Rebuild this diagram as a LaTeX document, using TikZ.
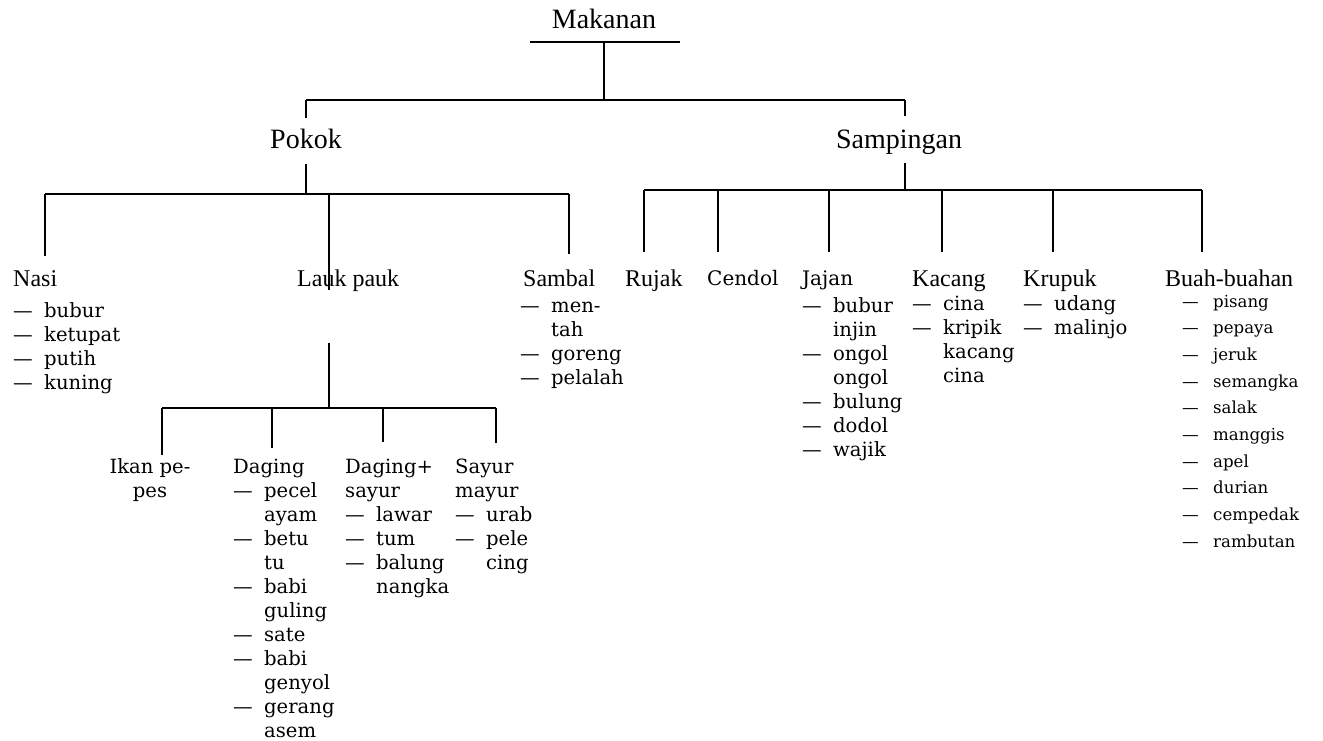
\documentclass[tikz,border=0pt]{standalone}
\usepackage{fontspec}
\setmainfont{DejaVu Serif}
\newfontfamily\lbfont{Liberation Serif}
\newcommand\dsh{\makebox[31pt][l]{—}}
\newcommand\ind{\hspace*{31pt}}
\newcommand\lst[1]{\begin{tabular}[t]{@{}l@{}}#1\end{tabular}}
\newcommand\clst[1]{\begin{tabular}[t]{@{}c@{}}#1\end{tabular}}

\begin{document}
\begin{tikzpicture}[x=1pt,y=-1pt,line join=round,
  tline/.style={line width=2.8pt},
  head/.style={font=\lbfont\fontsize{28}{30}\selectfont,anchor=base,inner sep=0pt},
  cat/.style={font=\lbfont\fontsize{24}{26}\selectfont,anchor=base west,inner sep=0pt},
  sub/.style={font=\fontsize{19.6}{24}\selectfont,anchor=base west,inner sep=0pt},
  fruit/.style={font=\fontsize{16.6}{26.7}\selectfont,anchor=base west,inner sep=0pt}]
	\useasboundingbox (0,0) rectangle (1323,740);
	
	% headings
	\node[head] (mak) at (604,28) {Makanan};
	\node[head] (pok) at (306,148) {Pokok};
	\node[head] (samp) at (899,148) {Sampingan};
	
	\foreach \n/\x/\t in {nasi/13/Nasi,lauk/297/Lauk pauk,sambal/523/Sambal,rujak/625/Rujak,kacang/912/Kacang,krupuk/1023/Krupuk,buah/1165/Buah-buahan}
	\node[cat] (\n) at (\x,286) {\t};
	\node[sub,font=\fontsize{20}{24}\selectfont] (cendol) at (707,285) {Cendol};
	\node[sub,font=\fontsize{20}{24}\selectfont] (jajan) at (802,285) {Jajan};
	
	% lists
	\node[sub] (nasil) at (13,317) {\lst{\dsh bubur\\\dsh ketupat\\\dsh putih\\\dsh kuning}};
	\node[sub] (samball) at (520,312) {\lst{\dsh men-\\\ind tah\\\dsh goreng\\\dsh pelalah}};
	\node[sub] (jajanl) at (802,312) {\lst{\dsh bubur\\\ind injin\\\dsh ongol\\\ind ongol\\\dsh bulung\\\dsh dodol\\\dsh wajik}};
	\node[sub] (kacangl) at (912,310) {\lst{\dsh cina\\\dsh kripik\\\ind kacang\\\ind cina}};
	\node[sub] (krupukl) at (1023,310) {\lst{\dsh udang\\\dsh malinjo}};
	\node[fruit] (buahl) at (1182,307) {\lst{\dsh pisang\\\dsh pepaya\\\dsh jeruk\\\dsh semangka\\\dsh salak\\\dsh manggis\\\dsh apel\\\dsh durian\\\dsh cempedak\\\dsh rambutan}};
	
	% lauk pauk
	\node[sub,anchor=base] (ikan) at (150,473) {\clst{Ikan pe-\\pes}};
	\node[sub] (daging) at (233,473) {\lst{Daging\\\dsh pecel\\\ind ayam\\\dsh betu\\\ind tu\\\dsh babi\\\ind guling\\\dsh sate\\\dsh babi\\\ind genyol\\\dsh gerang\\\ind asem}};
	\node[sub] (dagsay) at (345,473) {\lst{Daging+\\sayur\\\dsh lawar\\\dsh tum\\\dsh balung\\\ind nangka}};
	\node[sub] (sayur) at (455,473) {\lst{Sayur\\mayur\\\dsh urab\\\dsh pele\\\ind cing}};
	
	\path (530,42) coordinate (mbl) (680,42) coordinate (mbr) (604,42) coordinate (mb)
	(604,100) coordinate (mj) (306,100) coordinate (pj) (905,100) coordinate (sj)
	(306,164) coordinate (ps) (306,194) coordinate (pb)
	(45,194) coordinate (nb) (329,194) coordinate (lb) (569,194) coordinate (smb)
	(905,163) coordinate (ss) (905,190) coordinate (sb)
	(644,190) coordinate (rb) (1202,190) coordinate (bb)
	(329,343) coordinate (ls) (329,408) coordinate (lj)
	(162,408) coordinate (ib) (496,408) coordinate (syb);
	
	\draw[tline] (mbl)--(mbr);
	\draw[tline] (mb)--(mj);
	\draw[tline] (pj)--(sj);
	\draw[tline] (pj)--++(0,18);
	\draw[tline] (sj)--++(0,16);
	
	\draw[tline] (ps)--(pb);
	\draw[tline] (nb)--(smb);
	\draw[tline] (nb)--++(0,62);
	\draw[tline] (lb)--++(0,96);
	\draw[tline] (smb)--++(0,60);
	
	\draw[tline] (ss)--(sb);
	\draw[tline] (rb)--(bb);
	\foreach \x in {644,718,829,942,1053,1202}
	\draw[tline] (\x,0 |- sb)--++(0,62);
	
	\draw[tline] (ls)--(lj);
	\draw[tline] (ib)--(syb);
	\foreach \x/\d in {162/47,272/40,383/34,496/35}
	\draw[tline] (\x,0 |- lj)--++(0,\d);
\end{tikzpicture}
\end{document}
